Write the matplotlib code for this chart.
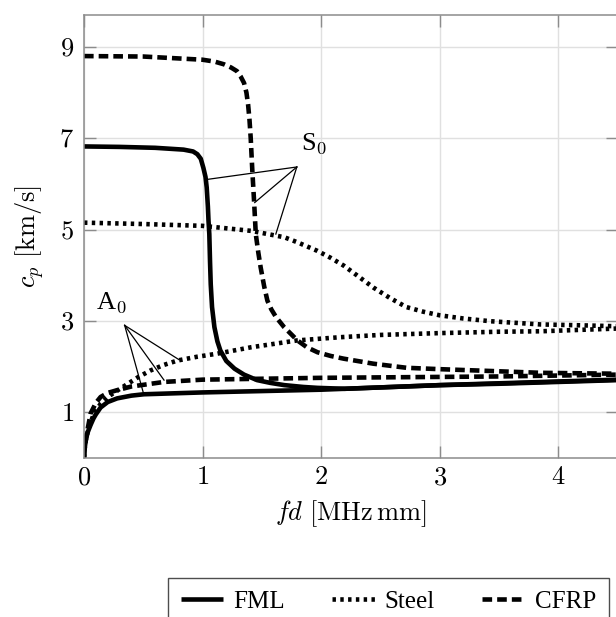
import matplotlib
matplotlib.use("Agg")
import matplotlib.pyplot as plt

plt.rcParams["mathtext.fontset"] = "cm"
plt.rcParams["font.family"] = ["Liberation Serif", "DejaVu Serif"]

# --- dispersion curves (fd in MHz mm, cp in km/s) ---
fml_s0_x = [0.0, 0.3, 0.6, 0.84, 0.92, 0.956, 0.985, 1.007, 1.025, 1.035, 1.045, 1.05,
            1.057, 1.063, 1.069, 1.08, 1.1, 1.125, 1.15, 1.2, 1.27, 1.35, 1.46, 1.57,
            1.69, 1.85, 1.97, 2.2, 2.6, 3.0, 3.5, 4.0, 4.5]
fml_s0_y = [6.82, 6.81, 6.79, 6.75, 6.71, 6.65, 6.55, 6.35, 6.15, 5.92, 5.5, 5.2,
            4.9, 4.3, 3.8, 3.3, 2.86, 2.55, 2.35, 2.12, 1.95, 1.82, 1.70, 1.64,
            1.59, 1.55, 1.53, 1.51, 1.55, 1.59, 1.63, 1.67, 1.71]
fml_a0_x = [0.0, 0.003, 0.008, 0.015, 0.03, 0.056, 0.08, 0.1, 0.14, 0.2, 0.28, 0.4,
            0.506, 0.75, 1.0, 1.5, 2.0, 2.5, 3.0, 3.5, 4.0, 4.5]
fml_a0_y = [0.0, 0.12, 0.25, 0.38, 0.55, 0.72, 0.86, 0.95, 1.10, 1.22, 1.30, 1.36,
            1.39, 1.41, 1.43, 1.46, 1.49, 1.54, 1.59, 1.62, 1.66, 1.70]

steel_s0_x = [0.0, 0.5, 1.0, 1.41, 1.69, 1.8, 1.97, 2.08, 2.19, 2.3, 2.44, 2.58,
              2.72, 2.86, 3.0, 3.2, 3.43, 3.85, 4.2, 4.5]
steel_s0_y = [5.15, 5.12, 5.08, 4.97, 4.83, 4.72, 4.53, 4.38, 4.21, 4.0, 3.73, 3.5,
              3.30, 3.2, 3.12, 3.05, 2.99, 2.92, 2.90, 2.88]
steel_a0_x = [0.0, 0.004, 0.01, 0.02, 0.04, 0.084, 0.14, 0.2, 0.28, 0.37, 0.46, 0.56,
              0.67, 0.79, 0.95, 1.125, 1.41, 1.8, 2.16, 2.5, 3.0, 3.5, 3.85, 4.5]
steel_a0_y = [0.0, 0.15, 0.3, 0.45, 0.65, 0.97, 1.18, 1.33, 1.47, 1.62, 1.77, 1.91,
              2.03, 2.13, 2.21, 2.28, 2.42, 2.57, 2.64, 2.69, 2.73, 2.76, 2.77, 2.83]

cfrp_s0_x = [0.0, 0.5, 1.0, 1.1, 1.18, 1.24, 1.29, 1.32, 1.35, 1.37, 1.384, 1.396,
             1.406, 1.42, 1.435, 1.449, 1.47, 1.49, 1.52, 1.547, 1.58, 1.62, 1.688,
             1.75, 1.8, 1.88, 1.97, 2.08, 2.19, 2.44, 2.72, 3.0, 3.43, 3.85, 4.5]
cfrp_s0_y = [8.80, 8.79, 8.72, 8.68, 8.62, 8.55, 8.47, 8.36, 8.21, 8.0, 7.74, 7.4,
             7.01, 6.28, 5.6, 4.9, 4.5, 4.17, 3.75, 3.44, 3.25, 3.08, 2.86,
             2.7, 2.57, 2.42, 2.31, 2.23, 2.17, 2.06, 1.97, 1.94, 1.90, 1.86, 1.84]
cfrp_a0_x = [0.0, 0.003, 0.01, 0.02, 0.03, 0.056, 0.1, 0.14, 0.2, 0.28, 0.4, 0.675,
             1.0, 1.5, 2.0, 2.5, 3.0, 3.5, 4.0, 4.5]
cfrp_a0_y = [0.0, 0.15, 0.32, 0.48, 0.62, 0.97, 1.2, 1.33, 1.42, 1.48, 1.56, 1.66,
             1.71, 1.73, 1.75, 1.76, 1.77, 1.78, 1.80, 1.82]

x_ticks = [0, 1, 2, 3, 4]
y_ticks = [1, 3, 5, 7, 9]
legend_labels = ["FML", "Steel", "CFRP"]

# annotation: label position, line origin, line targets
s0_label = (1.83, 6.62)
s0_origin = (1.795, 6.37)
s0_targets = [(1.046, 6.10), (1.44, 5.59), (1.618, 4.90)]
a0_label = (0.10, 3.13)
a0_origin = (0.343, 2.90)
a0_targets = [(0.80, 2.15), (0.675, 1.70), (0.506, 1.37)]

W, H = 616, 617
fig = plt.figure(figsize=(W / 100, H / 100), dpi=100)
ax = fig.add_axes([84 / W, 1 - 457.7 / H, 533.5 / W, 442.7 / H])

lw = 3.3
ax.plot(fml_s0_x, fml_s0_y, color="black", lw=lw, solid_capstyle="butt", label=legend_labels[0])
ax.plot(fml_a0_x, fml_a0_y, color="black", lw=lw, solid_capstyle="butt")
dot = (0, (0.75, 0.95))
ax.plot(steel_s0_x, steel_s0_y, color="black", lw=lw, ls=dot, label=legend_labels[1])
ax.plot(steel_a0_x, steel_a0_y, color="black", lw=lw, ls=dot)
dash = (0, (2.1, 1.1))
ax.plot(cfrp_s0_x, cfrp_s0_y, color="black", lw=lw, ls=dash, label=legend_labels[2])
ax.plot(cfrp_a0_x, cfrp_a0_y, color="black", lw=lw, ls=dash)

for tx, ty in s0_targets:
    ax.plot([s0_origin[0], tx], [s0_origin[1], ty], color="black", lw=0.9)
for tx, ty in a0_targets:
    ax.plot([a0_origin[0], tx], [a0_origin[1], ty], color="black", lw=0.9)
ax.text(*s0_label, "S$_0$", fontsize=19, ha="left", va="bottom")
ax.text(*a0_label, "A$_0$", fontsize=19, ha="left", va="bottom")

ax.set_xlim(0, 4.5)
ax.set_ylim(0, 9.7)
ax.set_xticks(x_ticks)
ax.set_xticklabels([f"${t}$" for t in x_ticks])
ax.set_yticks(y_ticks)
ax.set_yticklabels([f"${t}$" for t in y_ticks])
ax.tick_params(direction="in", length=8.5, width=1.0, color="0.55",
               top=True, right=True, labelsize=19, pad=7)
ax.grid(True, color="0.88", lw=1.0)
ax.set_axisbelow(True)
for sp in ax.spines.values():
    sp.set_color("0.55")
    sp.set_linewidth(1.1)

ax.set_xlabel(r"$fd\ [\mathrm{MHz\,mm}]$", fontsize=19, labelpad=6)
ax.set_ylabel(r"$c_p\ [\mathrm{km/s}]$", fontsize=19, labelpad=10)

fig.legend(loc="upper left", bbox_to_anchor=(168 / W, 1 - 578 / H), ncol=3,
           fontsize=18, frameon=True, fancybox=False, edgecolor="0.3",
           framealpha=1, handlelength=1.7, handletextpad=0.4, columnspacing=1.9,
           borderaxespad=0, borderpad=0.5)

fig.savefig("out.png", dpi=100)
